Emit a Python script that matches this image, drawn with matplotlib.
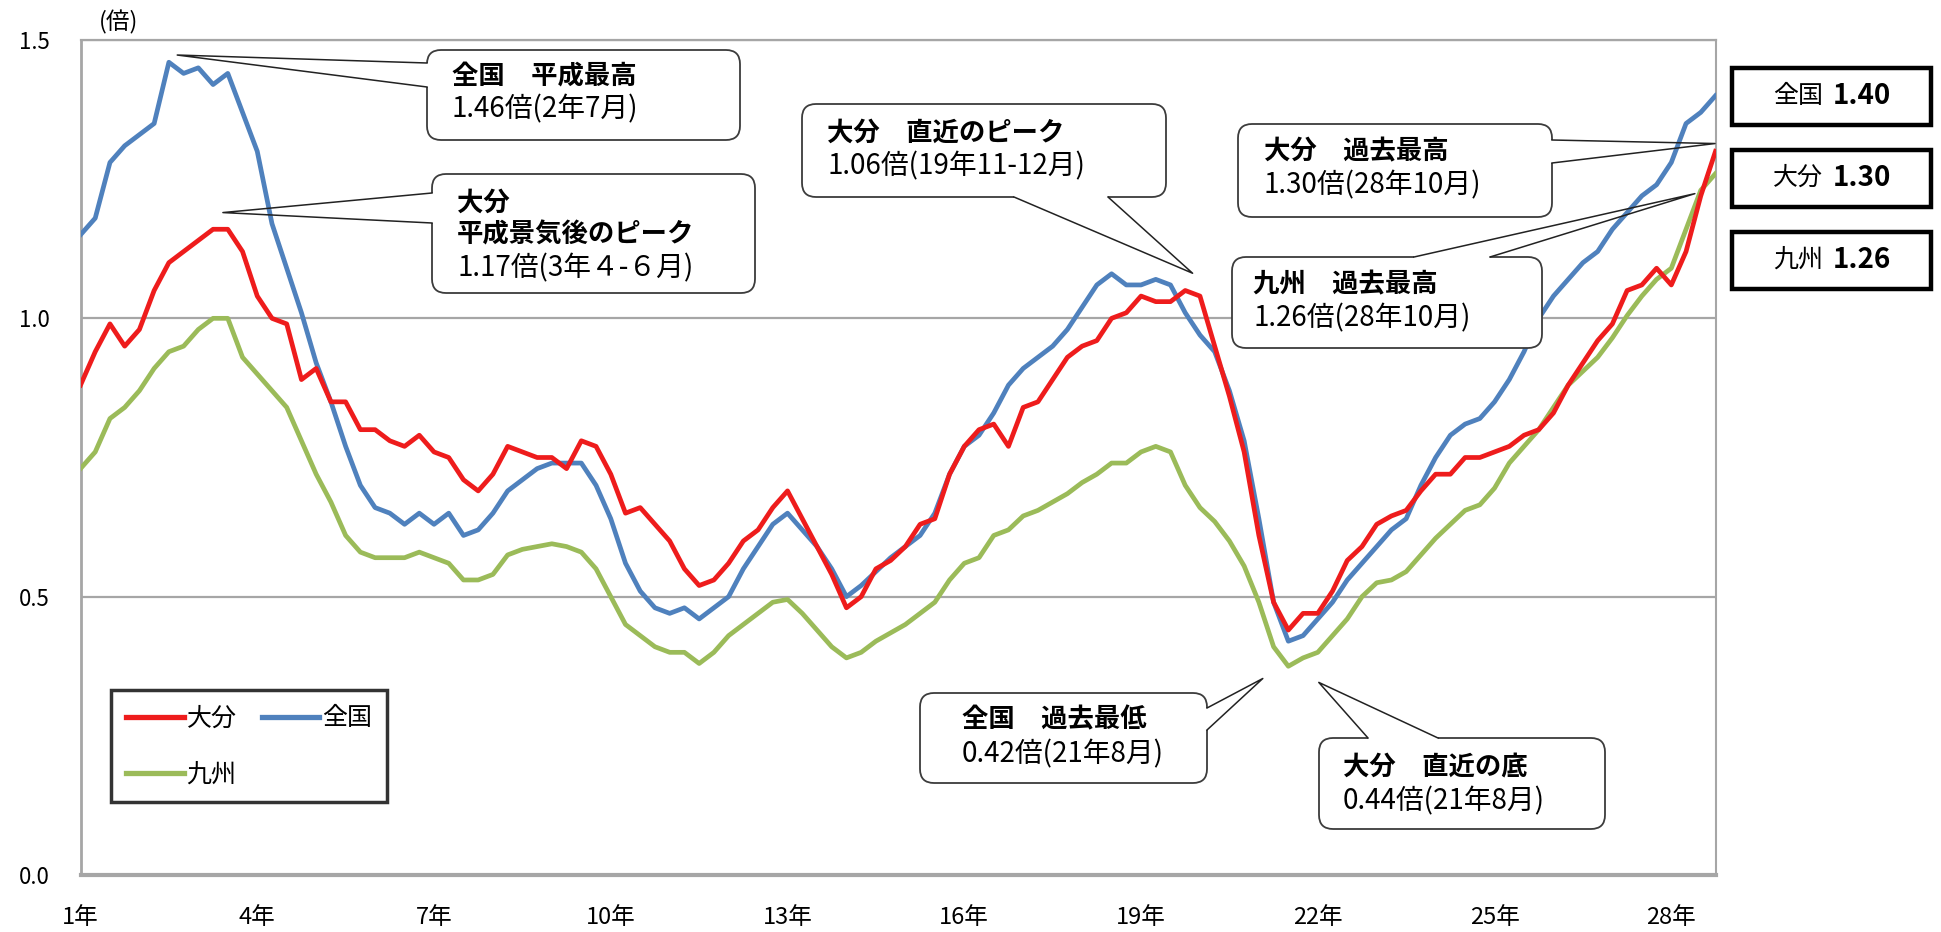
import matplotlib.pyplot as plt
from matplotlib.patches import FancyBboxPatch, Rectangle
from matplotlib.lines import Line2D
import numpy as np

plt.rcParams['font.family'] = ['Noto Sans CJK JP', 'DejaVu Sans']

W, H = 1941, 932

# --- data: quarterly readings, Jan H1 .. Oct H28 (month index 0..333, step 3) ---
months = np.arange(0, 334, 3)

zenkoku = [
    1.15, 1.18, 1.28, 1.31, 1.33, 1.35, 1.46, 1.44, 1.45, 1.42, 1.44, 1.37,
    1.30, 1.17, 1.09, 1.01, 0.92, 0.85, 0.77, 0.70, 0.66, 0.65, 0.63, 0.65,
    0.63, 0.65, 0.61, 0.62, 0.65, 0.69, 0.71, 0.73, 0.74, 0.74, 0.74, 0.70,
    0.64, 0.56, 0.51, 0.48, 0.47, 0.48, 0.46, 0.48, 0.50, 0.55, 0.59, 0.63,
    0.65, 0.62, 0.59, 0.55, 0.50, 0.52, 0.545, 0.57, 0.59, 0.61, 0.65, 0.72,
    0.77, 0.79, 0.83, 0.88, 0.91, 0.93, 0.95, 0.98, 1.02, 1.06, 1.08, 1.06,
    1.06, 1.07, 1.06, 1.01, 0.97, 0.94, 0.87, 0.78, 0.64, 0.49, 0.42, 0.43,
    0.46, 0.49, 0.53, 0.56, 0.59, 0.62, 0.64, 0.70, 0.75, 0.79, 0.81, 0.82,
    0.85, 0.89, 0.94, 1.00, 1.04, 1.07, 1.10, 1.12, 1.16, 1.19, 1.22, 1.24,
    1.28, 1.35, 1.37, 1.40,
]
oita = [
    0.88, 0.94, 0.99, 0.95, 0.98, 1.05, 1.10, 1.12, 1.14, 1.16, 1.16, 1.12,
    1.04, 1.00, 0.99, 0.89, 0.91, 0.85, 0.85, 0.80, 0.80, 0.78, 0.77, 0.79,
    0.76, 0.75, 0.71, 0.69, 0.72, 0.77, 0.76, 0.75, 0.75, 0.73, 0.78, 0.77,
    0.72, 0.65, 0.66, 0.63, 0.60, 0.55, 0.52, 0.53, 0.56, 0.60, 0.62, 0.66,
    0.69, 0.64, 0.59, 0.54, 0.48, 0.50, 0.55, 0.565, 0.59, 0.63, 0.64, 0.72,
    0.77, 0.80, 0.81, 0.77, 0.84, 0.85, 0.89, 0.93, 0.95, 0.96, 1.00, 1.01,
    1.04, 1.03, 1.03, 1.05, 1.04, 0.95, 0.86, 0.76, 0.61, 0.49, 0.44, 0.47,
    0.47, 0.51, 0.565, 0.59, 0.63, 0.645, 0.655, 0.69, 0.72, 0.72, 0.75, 0.75,
    0.76, 0.77, 0.79, 0.80, 0.83, 0.88, 0.92, 0.96, 0.99, 1.05, 1.06, 1.09,
    1.06, 1.12, 1.22, 1.30,
]
kyushu = [
    0.73, 0.76, 0.82, 0.84, 0.87, 0.91, 0.94, 0.95, 0.98, 1.00, 1.00, 0.93,
    0.90, 0.87, 0.84, 0.78, 0.72, 0.67, 0.61, 0.58, 0.57, 0.57, 0.57, 0.58,
    0.57, 0.56, 0.53, 0.53, 0.54, 0.575, 0.585, 0.59, 0.595, 0.59, 0.58, 0.55,
    0.50, 0.45, 0.43, 0.41, 0.40, 0.40, 0.38, 0.40, 0.43, 0.45, 0.47, 0.49,
    0.495, 0.47, 0.44, 0.41, 0.39, 0.40, 0.42, 0.435, 0.45, 0.47, 0.49, 0.53,
    0.56, 0.57, 0.61, 0.62, 0.645, 0.655, 0.67, 0.685, 0.705, 0.72, 0.74, 0.74,
    0.76, 0.77, 0.76, 0.70, 0.66, 0.635, 0.60, 0.555, 0.49, 0.41, 0.375, 0.39,
    0.40, 0.43, 0.46, 0.50, 0.525, 0.53, 0.545, 0.575, 0.605, 0.63, 0.655, 0.665,
    0.695, 0.74, 0.77, 0.80, 0.84, 0.88, 0.905, 0.93, 0.965, 1.005, 1.04, 1.07,
    1.09, 1.16, 1.23, 1.26,
]

tick_months = [0, 36, 72, 108, 144, 180, 216, 252, 288, 324]
tick_labels = ['1年', '4年', '7年', '10年', '13年', '16年', '19年', '22年', '25年', '28年']

RED = '#ee1c1c'
BLUE = '#4f81bd'
GREEN = '#9bbb59'
GRID = '#a6a6a6'

fig = plt.figure(figsize=(W / 100, H / 100), dpi=100)
ax = fig.add_axes([80.5 / W, 57 / H, 1635 / W, 835 / H])

ax.plot(months, kyushu, color=GREEN, lw=3.4, zorder=3, label='九州')
ax.plot(months, zenkoku, color=BLUE, lw=3.4, zorder=4, label='全国')
ax.plot(months, oita, color=RED, lw=3.4, zorder=5, label='大分')

ax.set_xlim(0, 333)
ax.set_ylim(0, 1.5)
ax.set_yticks([0, 0.5, 1.0, 1.5])
ax.set_yticklabels(['0.0', '0.5', '1.0', '1.5'])
ax.set_xticks(tick_months)
ax.set_xticklabels(tick_labels)
ax.tick_params(axis='y', length=0, pad=22, labelsize=16)
ax.tick_params(axis='x', length=0, pad=22, labelsize=17)
ax.yaxis.grid(True, color=GRID, lw=1.6)
ax.set_axisbelow(True)
for side, lw in [('bottom', 3.0), ('left', 2.0), ('right', 1.5), ('top', 1.6)]:
    ax.spines[side].set_color(GRID)
    ax.spines[side].set_linewidth(lw)

h_red = Line2D([], [], color=RED, lw=3.8)
h_blue = Line2D([], [], color=BLUE, lw=3.8)
h_green = Line2D([], [], color=GREEN, lw=3.8)
leg = ax.legend([h_red, h_green, h_blue], ['大分', '九州', '全国'], ncol=2,
                loc='lower left', bbox_to_anchor=(0.0187, 0.087), fontsize=18,
                frameon=True, fancybox=False, edgecolor='black',
                handlelength=2.3, handletextpad=0.12, columnspacing=1.0,
                labelspacing=1.2, borderpad=0.6, borderaxespad=0)
leg.get_frame().set_linewidth(2.5)

fig.text(119 / W, 1 - 22 / H, '(倍)', ha='center', va='center', fontsize=17)

# --- overlay in pixel coordinates for callouts ---
ov = fig.add_axes([0, 0, 1, 1], zorder=10)
ov.set_xlim(0, W)
ov.set_ylim(H, 0)
ov.axis('off')
ov.patch.set_alpha(0)


def to_px(m, v):
    disp = ax.transData.transform((m, v))
    return ov.transData.inverted().transform(disp)


def callout(box, lines, base, tip, tx):
    x0, y0, x1, y1 = box
    ov.add_patch(FancyBboxPatch((x0, y0), x1 - x0, y1 - y0,
                                boxstyle='round,pad=0,rounding_size=14',
                                fc='white', ec='#3c3c3c', lw=1.3, zorder=2))
    px, py = to_px(*tip)
    ov.plot([base[0][0], base[1][0]], [base[0][1], base[1][1]],
            color='white', lw=3, zorder=3, solid_capstyle='butt')
    ov.plot([base[0][0], px, base[1][0]], [base[0][1], py, base[1][1]],
            color='#222222', lw=1.1, zorder=4)
    for text, y, bold in lines:
        ov.text(tx, y, text, ha='left', va='center',
                fontsize=19 if bold else 20,
                fontweight='bold' if bold else 'normal', color='black', zorder=5)


callout((427, 50, 740, 140),
        [('全国　平成最高', 77, True), ('1.46倍(2年7月)', 109, False)],
        [(427, 63), (427, 87)], (19.7, 1.473), 452)
callout((432, 174, 755, 293),
        [('大分', 203, True), ('平成景気後のピーク', 235, True), ('1.17倍(3年４-６月)', 268, False)],
        [(432, 193), (432, 223)], (29.0, 1.19), 457)
callout((802, 104, 1166, 197),
        [('大分　直近のピーク', 133, True), ('1.06倍(19年11-12月)', 166, False)],
        [(1014, 197), (1108, 197)], (226.5, 1.081), 827)
callout((1238, 124, 1552, 217),
        [('大分　過去最高', 152, True), ('1.30倍(28年10月)', 185, False)],
        [(1552, 140), (1552, 163)], (332.9, 1.314), 1264)
callout((1232, 257, 1542, 348),
        [('九州　過去最高', 285, True), ('1.26倍(28年10月)', 318, False)],
        [(1414, 257), (1490, 257)], (328.8, 1.224), 1253)
callout((920, 693, 1207, 783),
        [('全国　過去最低', 720, True), ('0.42倍(21年8月)', 754, False)],
        [(1207, 708), (1207, 730)], (240.8, 0.353), 962)
callout((1319, 738, 1605, 829),
        [('大分　直近の底', 767, True), ('0.44倍(21年8月)', 801, False)],
        [(1368, 738), (1438, 738)], (252.2, 0.346), 1343)

# --- latest values boxes on the right ---
latest = [('全国', zenkoku[-1], 68), ('大分', oita[-1], 150), ('九州', kyushu[-1], 232)]
for name, val, top in latest:
    ov.add_patch(Rectangle((1732, top), 199, 57, fc='white', ec='black', lw=3.2, zorder=2))
    ov.text(1823, top + 28, name, ha='right', va='center', fontsize=18, zorder=5)
    ov.text(1833, top + 28, f'{val:.2f}', ha='left', va='center', fontsize=20,
            fontweight='bold', zorder=5)

fig.savefig('out.png', dpi=100)
